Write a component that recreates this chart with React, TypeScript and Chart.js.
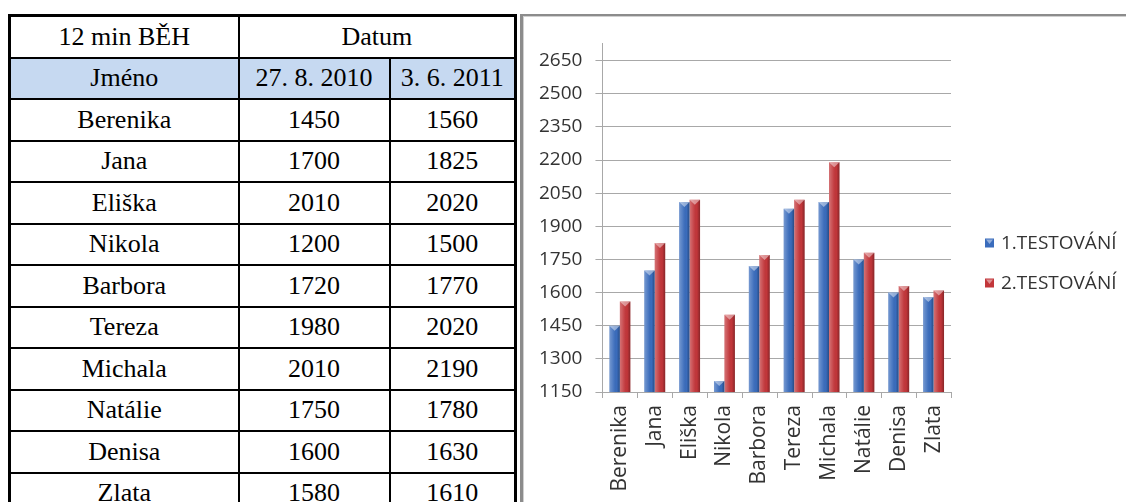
import React, { useEffect, useRef } from "react";
import { Chart, registerables } from "chart.js";

Chart.register(...registerables);

// 12-minute run results, two test dates
const names = ["Berenika", "Jana", "Eliška", "Nikola", "Barbora", "Tereza", "Michala", "Natálie", "Denisa", "Zlata"];
const run2010 = [1450, 1700, 2010, 1200, 1720, 1980, 2010, 1750, 1600, 1580];
const run2011 = [1560, 1825, 2020, 1500, 1770, 2020, 2190, 1780, 1630, 1610];
const seriesLabels = ["1.TESTOVÁNÍ", "2.TESTOVÁNÍ"];
const dateLabels = ["27. 8. 2010", "3. 6. 2011"];
const tableTitle = "12 min BĚH";
const dateHeader = "Datum";
const nameHeader = "Jméno";
const yTicks = [1150, 1300, 1450, 1600, 1750, 1900, 2050, 2200, 2350, 2500, 2650];
const yMin = 1150;
const yMax = 2730;

const AXIS_GREY = "#a8a8a8";
const TEXT_GREY = "#333333";
const FONT_FAMILY = "'Open Sans', sans-serif";
const tickFont = { family: FONT_FAMILY, size: 19 };
const catFont = { family: FONT_FAMILY, size: 21 };

// Adds a soft cylinder-like shading and a bevelled top to every bar,
// kept inside the plot area (the bar base lies below the visible axis)
const barShade = {
  id: "barShade",
  afterDatasetsDraw(chart: any) {
    const ctx = chart.ctx;
    const floor = chart.chartArea.bottom;
    chart.data.datasets.forEach((_: any, di: number) => {
      const meta = chart.getDatasetMeta(di);
      meta.data.forEach((bar: any) => {
        const { x, y, base, width } = bar.getProps(["x", "y", "base", "width"], true);
        const bottom = Math.min(base, floor);
        const l = x - width / 2;
        const r = x + width / 2;
        const h = bottom - y;
        if (h <= 0) return;
        const g = ctx.createLinearGradient(l, 0, r, 0);
        g.addColorStop(0, "rgba(255,255,255,0.30)");
        g.addColorStop(0.4, "rgba(255,255,255,0.08)");
        g.addColorStop(0.7, "rgba(0,0,0,0.0)");
        g.addColorStop(1, "rgba(0,0,0,0.30)");
        ctx.save();
        ctx.fillStyle = g;
        ctx.fillRect(l, y, width, h);
        ctx.beginPath();
        ctx.moveTo(l, y);
        ctx.lineTo(r, y);
        ctx.lineTo(x, y + Math.min(5, h));
        ctx.closePath();
        ctx.fillStyle = "rgba(255,255,255,0.45)";
        ctx.fill();
        ctx.restore();
      });
    });
  },
};

// Short tick marks on the category axis, between the categories
const categoryTicks = {
  id: "categoryTicks",
  afterDraw(chart: any) {
    const { ctx } = chart;
    const xs = chart.scales.x;
    const y0 = chart.chartArea.bottom;
    ctx.save();
    ctx.strokeStyle = AXIS_GREY;
    ctx.lineWidth = 1;
    ctx.beginPath();
    for (let k = 0; k <= names.length; k++) {
      const px = Math.round(xs.getPixelForValue(k - 0.5)) + 0.5;
      ctx.moveTo(px, y0);
      ctx.lineTo(px, y0 + 6);
    }
    ctx.stroke();
    ctx.restore();
  },
};

// Series key drawn to the right of the plot area
const sideLegend = {
  id: "sideLegend",
  afterDraw(chart: any) {
    const { ctx, chartArea } = chart;
    const x0 = chartArea.right + 34;
    const midY = chartArea.top + 220;
    const box = 9;
    ctx.save();
    ctx.font = `19px ${FONT_FAMILY}`;
    ctx.textBaseline = "middle";
    ctx.textAlign = "left";
    chart.data.datasets.forEach((ds: any, i: number) => {
      const cy = midY + (i - 0.5) * 40;
      const top = cy - box / 2;
      ctx.fillStyle = ds.backgroundColor;
      ctx.fillRect(x0, top, box, box);
      ctx.beginPath();
      ctx.moveTo(x0 + 1, top + 1);
      ctx.lineTo(x0 + box - 1, top + 1);
      ctx.lineTo(x0 + box / 2, top + box / 2 + 1);
      ctx.closePath();
      ctx.fillStyle = "rgba(255,255,255,0.45)";
      ctx.fill();
      ctx.fillStyle = TEXT_GREY;
      ctx.fillText(ds.label, x0 + 16, cy + 1);
    });
    ctx.restore();
  },
};

function RunChart() {
  const ref = useRef<HTMLCanvasElement | null>(null);

  useEffect(() => {
    if (!ref.current) return;
    const chart = new Chart(ref.current, {
      type: "bar",
      data: {
        labels: names,
        datasets: [
          { label: seriesLabels[0], data: run2010, backgroundColor: "#3a6cbc", borderWidth: 0 },
          { label: seriesLabels[1], data: run2011, backgroundColor: "#c2363a", borderWidth: 0 },
        ],
      },
      options: {
        responsive: false,
        animation: false,
        devicePixelRatio: 1,
        layout: { padding: { left: 3, top: 26, right: 175, bottom: 3 } },
        datasets: { bar: { categoryPercentage: 0.6, barPercentage: 1 } },
        plugins: {
          tooltip: { enabled: false },
          legend: { display: false },
        },
        scales: {
          x: {
            grid: { display: false },
            border: { display: true, color: AXIS_GREY },
            ticks: { minRotation: 90, maxRotation: 90, padding: 5, color: TEXT_GREY, font: catFont, autoSkip: false },
            afterFit: (s: any) => {
              s.height = 107;
            },
          },
          y: {
            min: yMin,
            max: yMax,
            afterBuildTicks: (s: any) => {
              s.ticks = yTicks.map((v) => ({ value: v }));
            },
            grid: { color: AXIS_GREY, tickLength: 7 },
            border: { color: AXIS_GREY },
            ticks: {
              padding: 13,
              color: TEXT_GREY,
              font: tickFont,
              callback: (v: any) => String(v),
            },
          },
        },
      } as any,
      plugins: [barShade, categoryTicks, sideLegend],
    });
    return () => chart.destroy();
  }, []);

  return <canvas ref={ref} width={603} height={485} style={{ display: "block" }} />;
}

const cellBase: React.CSSProperties = {
  border: "2px solid #000",
  textAlign: "center",
  verticalAlign: "middle",
  padding: 0,
  height: 39.5,
};

export default function App() {
  const headBlue = "#c6d9f1";
  return (
    <div
      style={{
        position: "absolute",
        left: 0,
        top: 0,
        width: 1126,
        height: 502,
        overflow: "hidden",
        background: "#fff",
      }}
    >
      <table
        style={{
          position: "absolute",
          left: 8,
          top: 14,
          borderCollapse: "collapse",
          tableLayout: "fixed",
          width: 508,
          fontFamily: "'Liberation Serif', 'Times New Roman', serif",
          fontSize: 26,
          color: "#000",
          border: "3px solid #000",
        }}
      >
        <colgroup>
          <col style={{ width: 229 }} />
          <col style={{ width: 151 }} />
          <col style={{ width: 126 }} />
        </colgroup>
        <tbody>
          <tr>
            <td style={cellBase}>{tableTitle}</td>
            <td style={cellBase} colSpan={2}>
              {dateHeader}
            </td>
          </tr>
          <tr>
            <td style={{ ...cellBase, background: headBlue }}>{nameHeader}</td>
            <td style={{ ...cellBase, background: headBlue }}>{dateLabels[0]}</td>
            <td style={{ ...cellBase, background: headBlue }}>{dateLabels[1]}</td>
          </tr>
          {names.map((n, i) => (
            <tr key={n}>
              <td style={cellBase}>{n}</td>
              <td style={cellBase}>{run2010[i]}</td>
              <td style={cellBase}>{run2011[i]}</td>
            </tr>
          ))}
        </tbody>
      </table>
      <div
        style={{
          position: "absolute",
          left: 520,
          top: 14,
          width: 620,
          height: 500,
          borderLeft: "3px solid #8c8c8c",
          borderTop: "2px solid #8c8c8c",
          boxShadow: "inset 1px 1px 0 #d0d0d0",
        }}
      />
      <div style={{ position: "absolute", left: 523, top: 17 }}>
        <RunChart />
      </div>
    </div>
  );
}
